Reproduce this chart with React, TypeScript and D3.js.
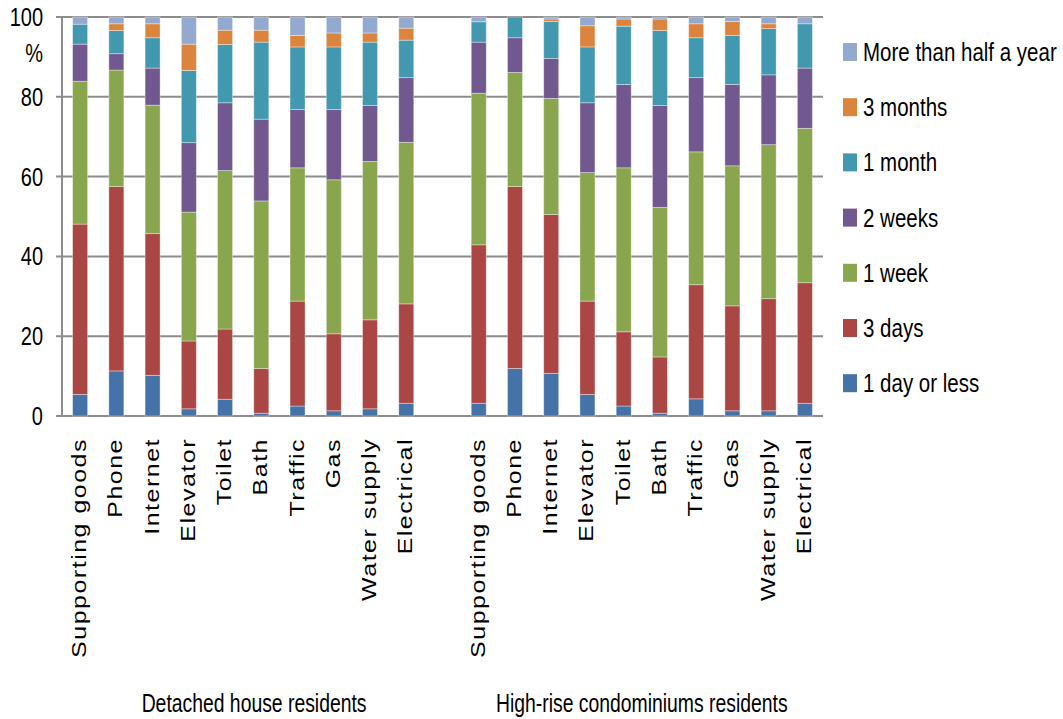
import React from "react";
import * as d3 from "d3";

// Facilities / services, repeated for both resident groups
const categories = [
  "Supporting goods",
  "Phone",
  "Internet",
  "Elevator",
  "Toilet",
  "Bath",
  "Traffic",
  "Gas",
  "Water supply",
  "Electrical",
];
const groups = ["Detached house residents", "High-rise condominiums residents"];

// Share of respondents (%) per recovery period; first 10 = detached, last 10 = high-rise
const oneDayOrLess = [5.4, 11.3, 10.2, 1.8, 4.2, 0.7, 2.5, 1.3, 1.8, 3.2, 3.2, 11.9, 10.7, 5.4, 2.5, 0.7, 4.3, 1.3, 1.3, 3.2];
const threeDays = [42.7, 46.2, 35.5, 17.0, 17.6, 11.2, 26.3, 19.3, 22.3, 24.9, 39.7, 45.6, 39.8, 23.4, 18.6, 14.1, 28.6, 26.3, 28.1, 30.2];
const oneWeek = [35.8, 29.2, 32.2, 32.3, 39.7, 42.0, 33.4, 38.6, 39.7, 40.5, 38.0, 28.6, 29.1, 32.2, 41.1, 37.5, 33.3, 35.1, 38.6, 38.7];
const twoWeeks = [9.3, 4.1, 9.3, 17.4, 17.0, 20.5, 14.6, 17.6, 14.0, 16.2, 12.8, 8.7, 10.0, 17.5, 20.9, 25.5, 18.6, 20.4, 17.5, 15.1];
const oneMonth = [5.0, 5.8, 7.6, 18.1, 14.6, 19.3, 15.7, 15.7, 15.9, 9.4, 5.1, 5.2, 9.3, 14.0, 14.6, 18.8, 10.0, 12.3, 11.6, 11.1];
const threeMonths = [0, 1.7, 3.5, 6.6, 3.6, 3.0, 2.9, 3.5, 2.3, 3.0, 0, 0, 0.6, 5.3, 1.8, 2.9, 3.5, 3.5, 1.2, 0];
const halfYear = [1.8, 1.7, 1.7, 6.8, 3.3, 3.3, 4.6, 4.0, 4.0, 2.8, 1.2, 0, 0.5, 2.2, 0.5, 0.5, 1.7, 1.1, 1.7, 1.7];

const seriesNames = ["1 day or less", "3 days", "1 week", "2 weeks", "1 month", "3 months", "More than half a year"];
const seriesValues = [oneDayOrLess, threeDays, oneWeek, twoWeeks, oneMonth, threeMonths, halfYear];
const seriesColors = ["#4572A7", "#AA4643", "#89A54E", "#71588F", "#4198AF", "#DB843D", "#93A9CF"];
const yTicks = [0, 20, 40, 60, 80, 100];

const W = 1063;
const H = 719;
const left = 62;
const right = 823;
const top = 17;
const bottom = 416;
const sx = 0.8; // horizontal squeeze applied to text

const GAP = "__gap__";
const slotKeys: string[] = [
  ...categories.map((_, i) => `0-${i}`),
  GAP,
  ...categories.map((_, i) => `1-${i}`),
];

export default function App() {
  const x = d3
    .scaleBand<string>()
    .domain(slotKeys)
    .range([left, right])
    .paddingInner(0.586)
    .paddingOuter(0.293);
  const y = d3.scaleLinear().domain([0, 100]).range([bottom, top]);

  const rows = slotKeys
    .filter((k) => k !== GAP)
    .map((k, idx) => {
      const row: Record<string, any> = { key: k };
      seriesNames.forEach((s, si) => (row[s] = seriesValues[si][idx]));
      return row;
    });
  const stacked = d3.stack<Record<string, any>>().keys(seriesNames)(rows);

  const bw = x.bandwidth();
  const step = x.step();
  const groupCenter = (g: number) => {
    const a = x(`${g}-0`)!;
    const b = x(`${g}-${categories.length - 1}`)!;
    return (a + b + bw) / 2;
  };

  const legendOrder = [...seriesNames].reverse();

  return (
    <svg
      width={W}
      height={H}
      style={{ position: "absolute", left: 0, top: 0, display: "block", background: "#fff" }}
      fontFamily="'Liberation Sans', Arial, sans-serif"
    >
      {/* gridlines */}
      {yTicks.map((t) => (
        <line key={`g${t}`} x1={left - 6} x2={right} y1={y(t)} y2={y(t)} stroke="#8c8c8c" strokeWidth={2} />
      ))}
      <line x1={left} x2={left} y1={top} y2={bottom} stroke="#8c8c8c" strokeWidth={2} />

      {/* y tick labels */}
      {yTicks.map((t) => (
        <text
          key={`yt${t}`}
          transform={`translate(43,${y(t)}) scale(${sx},1)`}
          textAnchor="end"
          dy="0.36em"
          fontSize={25}
          fill="#000"
        >
          {t}
        </text>
      ))}
      <text transform={`translate(43,53) scale(${sx},1)`} textAnchor="end" dy="0.36em" fontSize={25} fill="#000">
        %
      </text>

      {/* stacked bars */}
      {stacked.map((layer, si) => (
        <g key={layer.key} fill={seriesColors[si]}>
          {layer.map((d, i) => {
            const h = y(d[0]) - y(d[1]);
            if (h <= 0) return null;
            return (
              <rect
                key={i}
                x={x(d.data.key)!}
                y={y(d[1])}
                width={bw}
                height={h}
                stroke="#ffffff"
                strokeOpacity={0.45}
                strokeWidth={0.8}
              />
            );
          })}
        </g>
      ))}

      {/* category labels */}
      {rows.map((r, i) => (
        <text
          key={`c${i}`}
          transform={`translate(${x(r.key)! + bw / 2},438) scale(${sx},1) rotate(-90)`}
          textAnchor="end"
          dy="0.3em"
          fontSize={25}
          letterSpacing={1.5}
          fill="#000"
        >
          {categories[i % categories.length]}
        </text>
      ))}

      {/* group labels */}
      {groups.map((g, gi) => (
        <text
          key={g}
          transform={`translate(${groupCenter(gi) + (gi === 0 ? step * 0.3 : 0)},703) scale(0.745,1)`}
          textAnchor="middle"
          dy="0.36em"
          fontSize={26}
          fill="#000"
        >
          {g}
        </text>
      ))}

      {/* legend */}
      {legendOrder.map((name, i) => {
        const cy = 52 + i * 55.2;
        const si = seriesNames.indexOf(name);
        return (
          <g key={name}>
            <rect x={843} y={cy - 9} width={14} height={18} fill={seriesColors[si]} />
            <text
              transform={`translate(863,${cy}) scale(0.82,1)`}
              dy="0.36em"
              fontSize={25}
              fill="#000"
            >
              {name}
            </text>
          </g>
        );
      })}
    </svg>
  );
}
